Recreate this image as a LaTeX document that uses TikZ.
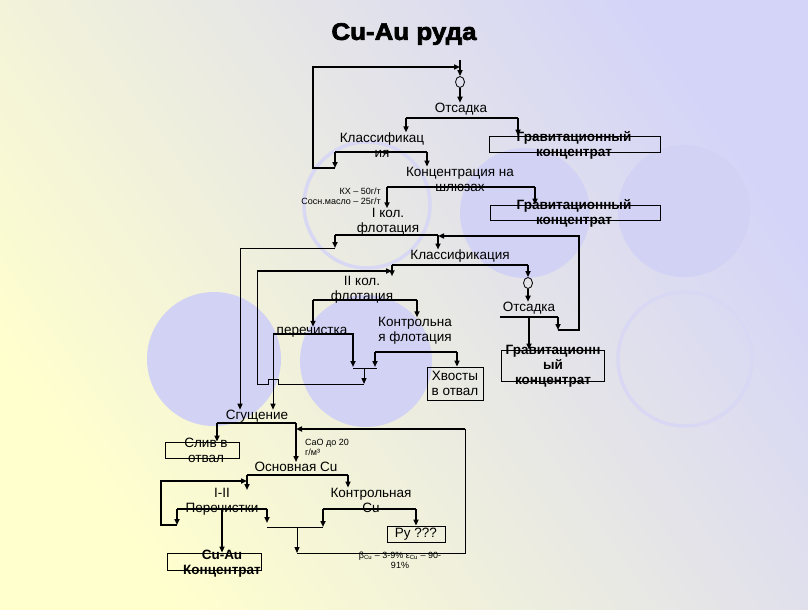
\documentclass[tikz,border=0pt]{standalone}
\usepackage{fontspec}
\setmainfont{Liberation Sans}
\newfontfamily\heavyfont{Liberation Sans}[BoldFeatures={FakeBold=3,FakeStretch=1.08}]
\usetikzlibrary{arrows.meta,positioning,shapes.geometric}
\definecolor{bgyel}{RGB}{255,255,205}
\definecolor{bgmid}{RGB}{246,246,232}
\definecolor{bglav}{RGB}{212,212,248}
\definecolor{blob}{RGB}{210,210,245}
\definecolor{ringc}{RGB}{216,216,244}

\begin{document}
\begin{tikzpicture}[x=1pt,y=-1pt,>={Triangle[length=6pt,width=5pt]},every node/.append style={align=center,inner sep=0pt},lbl/.style={font=\fontsize{13.5}{15}\selectfont},glbl/.style={font=\fontsize{13.5}{15}\selectfont\bfseries},smalllbl/.style={font=\fontsize{9}{10}\selectfont},box/.style={draw,line width=0.8pt},mixer/.style={ellipse,draw,line width=0.8pt,minimum width=9pt,minimum height=11pt},pipe/.style={line width=2pt},thinpipe/.style={line width=1pt}]
    \useasboundingbox (0,0) rectangle (808,610);
    \shade[top color=bglav,middle color=bgmid,bottom color=bgyel,shading angle=-55] (0,0) rectangle (808,610);
    \fill[blob] (525,213) circle[radius=65pt];
    \fill[blob] (684,211) circle[radius=66pt];
    \fill[blob] (214,359) circle[radius=67pt];
    \fill[blob] (366,361) circle[radius=66pt];
    \draw[ringc,line width=3.5pt] (367,205) circle[radius=63pt];
    \draw[ringc,line width=3.5pt] (685,359) circle[radius=67pt];

    \node [font=\heavyfont\bfseries\fontsize{24}{26}\selectfont] (title) at (404,34) {Cu-Au руда};
    \node [mixer] (mix1) at (460,82) {};
    \node [lbl] (jig1) at (461,109) {Отсадка};
    \node [lbl] (cls1) at (382,145) {Классификац\\ия};
    \node [box,minimum width=171pt,minimum height=16pt] (grav1box) at (574.5,144) {};
    \node [glbl] (grav1) at (574,145) {Гравитационный\\концентрат};
    \node [lbl] (shl) at (460,179) {Концентрация на\\шлюзах};
    \node [smalllbl,anchor=east,align=right] (reag) at (381,196) {КХ – 50г/т\\Сосн.масло – 25г/т};
    \node [box,minimum width=170pt,minimum height=15pt] (grav2box) at (575,212.5) {};
    \node [glbl] (grav2) at (574,213) {Гравитационный\\концентрат};
    \node [lbl] (fl1) at (388,222) {I кол.\\флотация};
    \node [lbl] (cls2) at (460,256) {Классификация};
    \node [mixer] (mix2) at (528,283) {};
    \node [lbl] (fl2) at (362,290) {II кол.\\флотация};
    \node [lbl] (jig2) at (529,308) {Отсадка};
    \node [lbl] (clean) at (312,332) {перечистка};
    \node [lbl] (ctrl) at (415,331) {Контрольна\\я флотация};
    \node [box,lbl,minimum width=56pt,minimum height=33pt] (tails) at (455,383.5) {Хвосты\\в отвал};
    \node [box,minimum width=103pt,minimum height=31pt] (grav3box) at (552.5,365.5) {};
    \node [glbl] (grav3) at (553,366.5) {Гравитационн\\ый\\концентрат};
    \node [lbl] (thicken) at (257,416) {Сгущение};
    \node [box,minimum width=74pt,minimum height=16pt] (drainbox) at (202,450) {};
    \node [lbl] (drain) at (206,450) {Слив в\\отвал};
    \node [smalllbl,anchor=west,align=left] (cao) at (305,447) {CaO до 20\\г/м³};
    \node [lbl] (maincu) at (296,467) {Основная Cu};
    \node [lbl] (cln12) at (222,501.5) {I-II\\Перечистки};
    \node [lbl] (ctrlcu) at (371,500) {Контрольная\\Cu};
    \node [box,lbl,minimum width=58pt,minimum height=16pt] (py) at (416,534) {Py ???};
    \node [box,minimum width=94pt,minimum height=17pt] (concbox) at (214,561.5) {};
    \node [glbl] (conc) at (222,563.5) {Cu-Au\\Концентрат};
    \node [smalllbl] (rec) at (400,560) {β\textsubscript{Cu} – 3-9\% ε\textsubscript{Cu} – 90-\\91\%};

    \coordinate (feed) at (460,60);
    \coordinate (j1l) at (406,118);
    \coordinate (j1r) at (518,118);
    \coordinate (k1l) at (335,152);
    \coordinate (k1r) at (427,152);
    \coordinate (lp1) at (335,168);
    \coordinate (lp2) at (313,168);
    \coordinate (lp3) at (313,67);
    \coordinate (s1l) at (387,187);
    \coordinate (s1r) at (535,187);
    \coordinate (f1l) at (335,235);
    \coordinate (f1r) at (438,235);
    \coordinate (f1c) at (335,248);
    \coordinate (f1d) at (240,248);
    \coordinate (k2l) at (392,265);
    \coordinate (k2r) at (528,265);
    \coordinate (lp4) at (257,271);
    \coordinate (f2l) at (313,300);
    \coordinate (f2r) at (417,300);
    \coordinate (cl1) at (273,334);
    \coordinate (cl2) at (353,334);
    \coordinate (cl3) at (353,367);
    \coordinate (ct1) at (375,352);
    \coordinate (ct2) at (457,352);
    \coordinate (ct3) at (375,367);
    \coordinate (jn1) at (353,368);
    \coordinate (jn2) at (377,368);
    \coordinate (jn3) at (364,368);
    \coordinate (jn4) at (364,384);
    \coordinate (j2l) at (500,317);
    \coordinate (j2m) at (529,317);
    \coordinate (j2r) at (558,317);
    \coordinate (r1) at (558,330);
    \coordinate (r2) at (579,330);
    \coordinate (r3) at (579,236);
    \coordinate (t1) at (217,423);
    \coordinate (t2) at (296,423);
    \coordinate (cr1) at (465,429);
    \coordinate (cr2) at (465,553);
    \coordinate (cr3) at (297,553);
    \coordinate (cr4) at (297,527);
    \coordinate (m1) at (247,475);
    \coordinate (m2) at (348,475);
    \coordinate (m1a) at (247,490);
    \coordinate (lp5) at (161,525);
    \coordinate (lp6) at (161,481);
    \coordinate (p1) at (177,509);
    \coordinate (p2) at (267,509);
    \coordinate (p3) at (222,509);
    \coordinate (p1a) at (177,525);
    \coordinate (p2a) at (267,523);
    \coordinate (p2b) at (267,527);
    \coordinate (q1) at (323,509);
    \coordinate (q2) at (416,509);
    \coordinate (q1a) at (323,527);

    \draw[pipe,->] (feed) -- (mix1);
    \draw[pipe,->] (mix1.south) -- (mix1.south |- jig1.north);
    \draw[pipe] (j1l) -- (j1r);
    \draw[pipe,->] (j1l) -- (j1l |- cls1.north);
    \draw[pipe,->] (j1r) -- (j1r |- grav1box.north);
    \draw[pipe] (k1l) -- (k1r);
    \draw[pipe,->] (k1l) -- (lp1);
    \draw[pipe,->] (k1r) -- (k1r |- shl.north);
    \draw[pipe,->] (lp1) -- (lp2) -- (lp3) -- (feed |- lp3);
    \draw[pipe] (s1l) -- (s1r);
    \draw[pipe,->] (s1l) -- (s1l |- fl1.north);
    \draw[pipe,->] (s1r) -- (s1r |- grav2box.north);
    \draw[pipe] (f1l) -- (f1r);
    \draw[pipe,->] (f1l) -- (f1c);
    \draw[pipe,->] (f1r) -- (f1r |- cls2.north);
    \draw[thinpipe,->] (f1c) -- (f1d) -- (f1d |- thicken.north);
    \draw[pipe] (k2l) -- (k2r);
    \draw[pipe,->] (k2l) -- (k2l |- fl2.north);
    \draw[pipe,->] (k2r) -- (mix2);
    \draw[pipe,->] (mix2) -- (mix2 |- jig2.north);
    \draw[pipe] (f2l) -- (f2r);
    \draw[pipe,->] (f2l) -- (f2l |- clean.north);
    \draw[pipe,->] (f2r) -- (f2r |- ctrl.north);
    \draw[pipe,->] (cl1) -- (cl2) -- (cl3);
    \draw[thinpipe,->] (cl1) -- (cl1 |- thicken.north);
    \draw[pipe] (ct1) -- (ct2);
    \draw[pipe,->] (ct1) -- (ct3);
    \draw[pipe,->] (ct2) -- (ct2 |- tails.north);
    \draw[thinpipe] (jn1) -- (jn2);
    \draw[thinpipe,->] (jn3) -- (jn4);
    \draw[thinpipe] (jn4) -- (278,384) -- (278,379) -- (268,379) -- (268,384) -- (lp4 |- jn4) -- (lp4);
    \draw[pipe,->] (lp4) -- (k2l |- lp4);
    \draw[pipe] (j2l) -- (j2r);
    \draw[pipe,->] (j2m) -- (j2m |- grav3box.north);
    \draw[pipe,->] (j2r) -- (r1);
    \draw[pipe,->] (r1) -- (r2) -- (r3) -- (f1r |- r3);
    \draw[pipe] (t1) -- (t2);
    \draw[pipe,->] (t1) -- (t1 |- drainbox.north);
    \draw[pipe,->] (t2) -- (t2 |- maincu.north);
    \draw[thinpipe] (cr3) -- (cr2) -- (cr1);
    \draw[pipe,->] (cr1) -- (t2 |- cr1);
    \draw[pipe] (m1) -- (m2);
    \draw[pipe,->] (m1) -- (m1a);
    \draw[pipe,->] (m2) -- (m2 |- ctrlcu.north);
    \draw[pipe,->] (p1a) -- (lp5) -- (lp6) -- (m1 |- lp6);
    \draw[pipe] (p1) -- (p2);
    \draw[pipe,->] (p1) -- (p1a);
    \draw[pipe,->] (p2) -- (p2a);
    \draw[pipe,->] (p3) -- (p3 |- concbox.north);
    \draw[pipe] (q1) -- (q2);
    \draw[pipe,->] (q1) -- (q1a);
    \draw[pipe,->] (q2) -- (q2 |- py.north);
    \draw[thinpipe] (p2b) -- (q1a);
    \draw[thinpipe,->] (cr4) -- (cr3);
\end{tikzpicture}
\end{document}
